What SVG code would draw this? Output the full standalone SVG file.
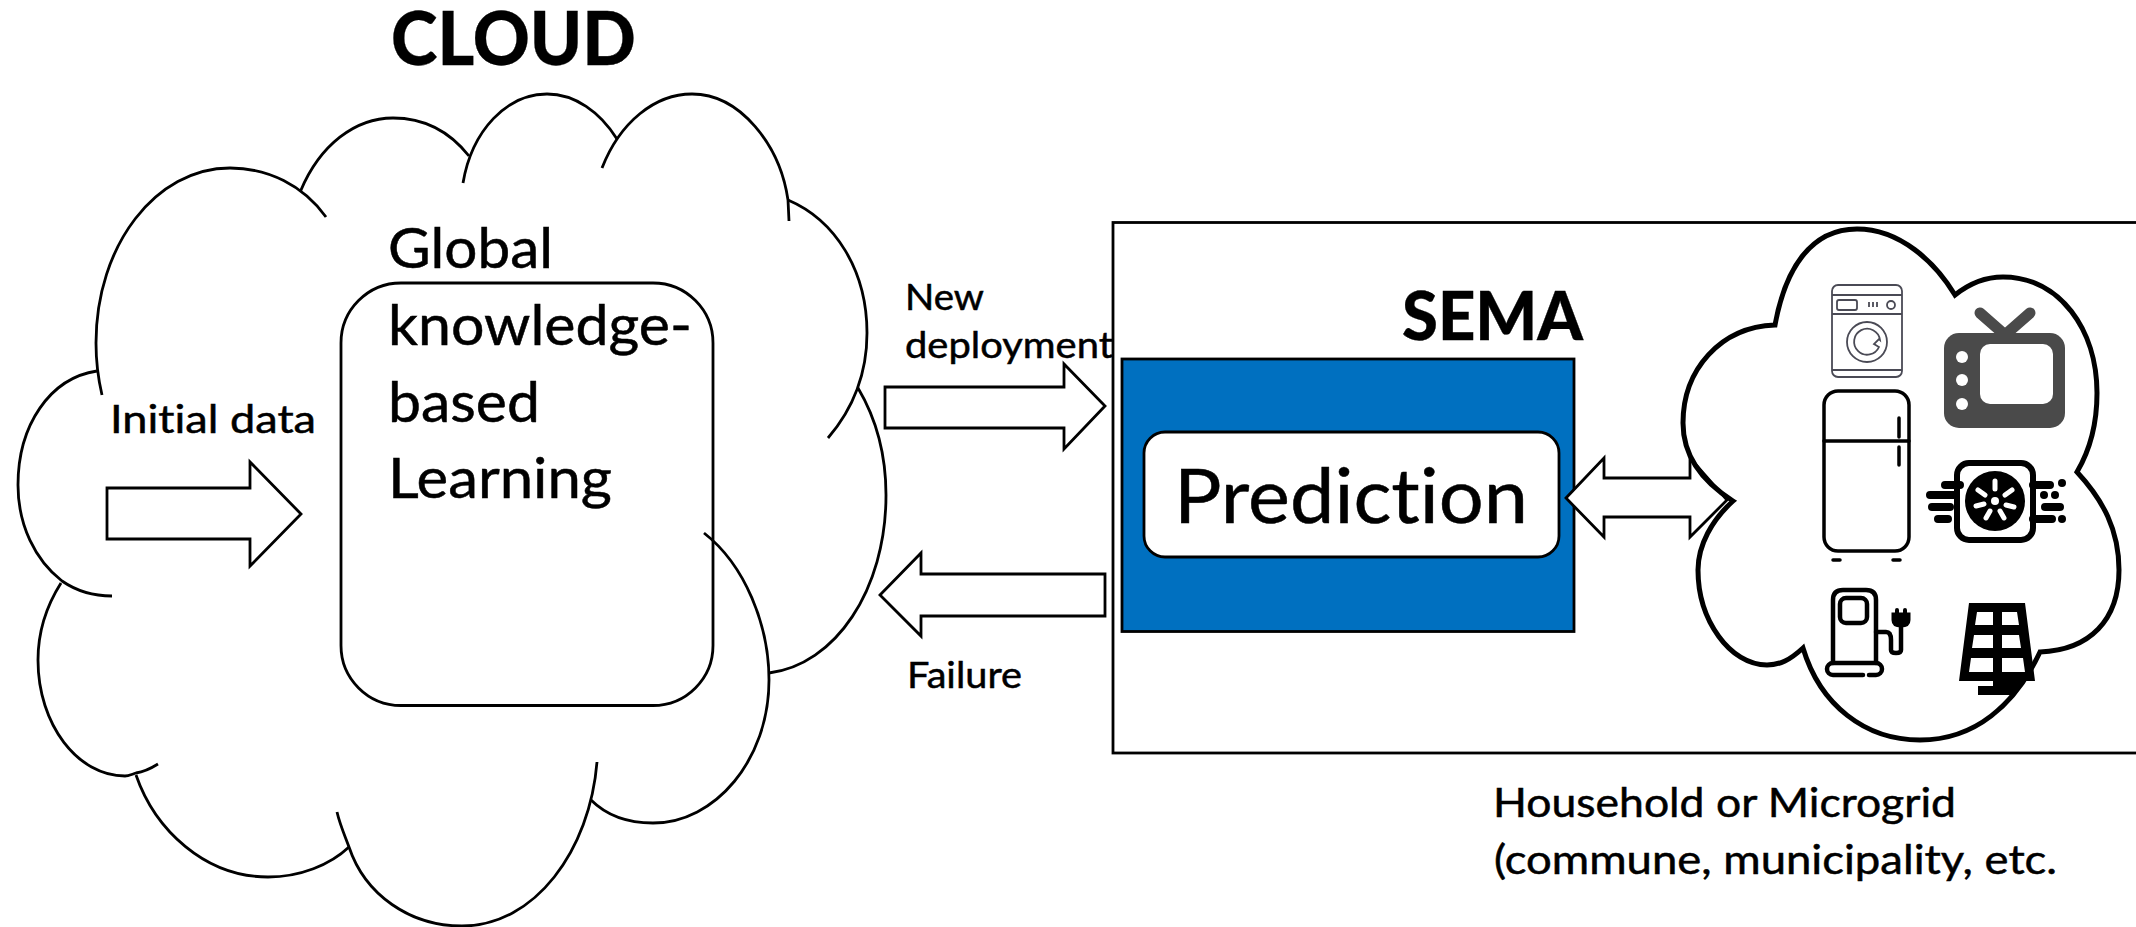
<svg xmlns="http://www.w3.org/2000/svg" width="2136" height="927" viewBox="0 0 2136 927">
<style>
text{font-family:"Lato","Open Sans","Liberation Sans",sans-serif;fill:#000;font-variant-ligatures:none;stroke:#000;stroke-width:.5}
.b{font-weight:900;stroke-width:.3}
.arc{fill:none;stroke:#000;stroke-width:2.800}
.arw{fill:#fff;stroke:#000;stroke-width:2.800;stroke-linejoin:miter}
.ic{fill:none;stroke:#000;stroke-linecap:round;stroke-linejoin:round}
</style>
<rect width="2136" height="927" fill="#fff"/>
<g id="cloud-global">
<path class="arc" d="M102 395C98 378 96 360 96 343C96 245 156 168 230 168C268 168 303 185 326 217"/>
<path class="arc" d="M300.700 190.700C320 145 355 118 393 118C425 118 450 132 469 156"/>
<path class="arc" d="M463 183C472 130 507 94 547 94C575 94 600 112 617 139"/>
<path class="arc" d="M602 168C620 122 655 94 692 94C740 94 780 145 788 200L789 221"/>
<path class="arc" d="M788 200C835 220 867 270 867 333C867 375 852 410 828 438"/>
<path class="arc" d="M858 388C877 420 886 455 886 495C886 590 835 665 769 673"/>
<path class="arc" d="M704 533C745 565 769 625 769 680C769 760 715 823 653 823C628 823 606 815 591 800"/>
<path class="arc" d="M597 762C590 850 535 926 462 926C410 926 365 895 349 847C345 836 340 825 337 812"/>
<path class="arc" d="M349 847C330 865 300 877 268 877C205 877 155 830 136 775"/>
<path class="arc" d="M158 764C150 769 143 772 136 773C130 775 128 776 125 776C78 776 38 725 38 660C38 630 47 605 61 583"/>
<path class="arc" d="M112 596C92 596 75 590 62 581C35 560 18 525 18 485C18 425 50 378 97 371"/>
<text class="b" x="391" y="65" font-size="74" textLength="245" lengthAdjust="spacingAndGlyphs">CLOUD</text>
</g>
<g id="knowledge">
<rect x="341" y="283" width="372" height="422.500" rx="60" ry="60" fill="none" stroke="#000" stroke-width="2.800"/>
<text x="388" y="268" font-size="56" textLength="165" lengthAdjust="spacingAndGlyphs">Global</text>
<text x="388" y="345" font-size="56" textLength="304" lengthAdjust="spacingAndGlyphs">knowledge-</text>
<text x="388" y="422" font-size="56" textLength="152" lengthAdjust="spacingAndGlyphs">based</text>
<text x="388" y="498" font-size="56" textLength="224" lengthAdjust="spacingAndGlyphs">Learning</text>
</g>
<g id="sema-box">
<rect x="1113" y="222.500" width="1030" height="530.500" fill="#fff" stroke="#000" stroke-width="2.800"/>
<text class="b" x="1402" y="340" font-size="66" textLength="181" lengthAdjust="spacingAndGlyphs">SEMA</text>
</g>
<g id="prediction">
<rect x="1122" y="359" width="452" height="272.500" fill="#0070c0" stroke="#000" stroke-width="2.800"/>
<rect x="1144" y="432" width="415" height="125" rx="21" ry="21" fill="#fff" stroke="#000" stroke-width="2.800"/>
<text x="1174" y="523" font-size="76" textLength="354" lengthAdjust="spacingAndGlyphs">Prediction</text>
</g>
<g id="device-cloud-fill">
<path fill="#fff" d="M1775 325C1785 270 1810 229 1857 229C1900 229 1935 262 1955 295C1970 283 1985 277 2003 277C2060 277 2097 330 2097 393C2097 425 2090 450 2077 472C2103 500 2119 530 2119 570C2119 620 2090 650 2040 652C2015 705 1975 740 1920 740C1865 740 1820 705 1803 648C1790 660 1780 665 1767 665C1730 665 1698 620 1698 570C1698 545 1712 520 1733 501C1700 480 1683 455 1683 423C1683 370 1720 327 1775 325Z"/>
</g>
<g id="connectors">
<path class="arw" d="M107 488H250V462L301 514L250 566V539H107Z"/>
<path class="arw" d="M885 387H1064V364L1105 406L1064 449V428H885Z"/>
<path class="arw" d="M880 595L921 553V574H1105V616H921V636Z"/>
<path class="arw" d="M1566 498L1604 458V478H1690V458L1727 500L1690 537V517H1604V537Z"/>
</g>
<g id="device-cloud">
<path fill="none" stroke="#000" stroke-width="5" stroke-linejoin="miter" d="M1775 325C1785 270 1810 229 1857 229C1900 229 1935 262 1955 295C1970 283 1985 277 2003 277C2060 277 2097 330 2097 393C2097 425 2090 450 2077 472C2103 500 2119 530 2119 570C2119 620 2090 650 2040 652C2015 705 1975 740 1920 740C1865 740 1820 705 1803 648C1790 660 1780 665 1767 665C1730 665 1698 620 1698 570C1698 545 1712 520 1733 501C1700 480 1683 455 1683 423C1683 370 1720 327 1775 325Z"/>
</g>
<g id="washer" fill="none" stroke="#4a4a55" stroke-width="1.800">
<rect x="1832" y="285" width="70" height="92" rx="6"/>
<path d="M1832 295H1902M1832 314H1902M1832 370H1902"/>
<rect x="1837" y="300" width="20" height="10" rx="2"/>
<path d="M1869 302V307M1873 302V307M1877 302V307"/>
<circle cx="1891" cy="305" r="4"/>
<circle cx="1867" cy="342" r="20"/>
<path d="M1880 340A13 13 0 1 0 1879 347L1874 344L1879 339Z"/>
</g>
<g id="tv">
<path d="M1980 313L2005 335L2030 313" fill="none" stroke="#4a4a4a" stroke-width="11" stroke-linecap="round"/>
<rect x="1944" y="333" width="121" height="95" rx="15" fill="#4a4a4a"/>
<rect x="1980" y="344" width="73" height="60" rx="10" fill="#fff"/>
<circle cx="1962" cy="357" r="6" fill="#fff"/><circle cx="1962" cy="380" r="6" fill="#fff"/><circle cx="1962" cy="404" r="6" fill="#fff"/>
</g>
<g id="fridge">
<rect class="ic" stroke-width="3.500" x="1824" y="391" width="85" height="160" rx="14"/>
<path class="ic" stroke-width="3.500" d="M1824 441H1909M1899 418V437M1899 447V465M1833 560H1840M1893 560H1900"/>
</g>
<g id="heat-pump">
<rect class="ic" stroke-width="6" x="1957" y="463" width="76" height="77" rx="12"/>
<circle cx="1995" cy="501" r="30" fill="#000"/>
<g stroke="#fff" stroke-width="5" stroke-linecap="round">
<path d="M1995 481V489M2012 490L2005 495M2014 507L2006 505M2004 518L2000 511M1986 518L1990 511M1976 506L1984 504M1978 490L1985 495"/>
</g>
<circle cx="1995" cy="501" r="4" fill="#fff"/>
<path class="ic" stroke-width="8" d="M1930 495H1955M1932 507H1950M1938 519H1948M1960 485H1945M2033 485H2050M2033 519H2052M2045 507H2060"/>
<circle cx="2062" cy="483" r="4"/><circle cx="2055" cy="495" r="4"/><circle cx="2062" cy="519" r="4"/><circle cx="2044" cy="495" r="4"/>
</g>
<g id="charger">
<path class="ic" stroke-width="4.500" d="M1833 663V600Q1833 590 1843 590H1866Q1876 590 1876 600V663"/>
<rect class="ic" stroke-width="4.500" x="1840" y="598" width="27" height="25" rx="6"/>
<path class="ic" stroke-width="4.500" d="M1863 675H1833A6 6 0 0 1 1833 663H1876A6 6 0 0 1 1876 675H1869"/>
<path class="ic" stroke-width="4.500" d="M1876 632H1886Q1891 632 1891 640V650Q1891 653 1896 653Q1901 653 1901 650V626"/>
<path d="M1893 614H1909V620Q1909 626 1901 626Q1893 626 1893 620Z" fill="#000" stroke="#000" stroke-width="3"/>
<path class="ic" stroke-width="4" d="M1897 610V614M1905 610V614"/>
</g>
<g id="solar">
<path fill-rule="evenodd" fill="#000" d="M1969 603H2025L2035 681H2023L2015 695H1978V686H1993V681H1959ZM1977 612L1975 625H1993V612ZM2002 612V625H2019L2017 612ZM1974 635L1972 648H1993V635ZM2002 635V648H2021L2019 635ZM1971 658L1969 672H1993V658ZM2002 658V672H2025L2023 658Z"/>
</g>
<g id="labels">
<text x="110" y="433" font-size="38" textLength="206" lengthAdjust="spacingAndGlyphs">Initial data</text>
<text x="905" y="310" font-size="36" textLength="79" lengthAdjust="spacingAndGlyphs">New</text>
<text x="905" y="358" font-size="36" textLength="208" lengthAdjust="spacingAndGlyphs">deployment</text>
<text x="907" y="688" font-size="36" textLength="115" lengthAdjust="spacingAndGlyphs">Failure</text>
<text x="1493" y="817" font-size="40" textLength="463" lengthAdjust="spacingAndGlyphs">Household or Microgrid</text>
<text x="1494" y="874" font-size="40" textLength="563" lengthAdjust="spacingAndGlyphs">(commune, municipality, etc.</text>
</g>
</svg>
